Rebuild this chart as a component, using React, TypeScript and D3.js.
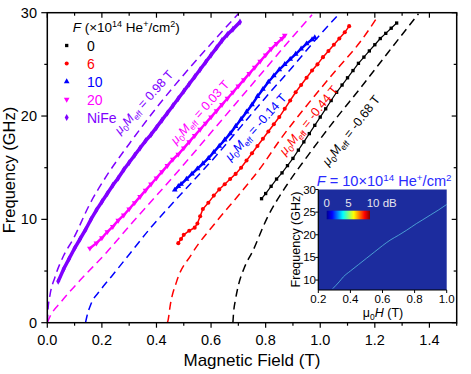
import React from 'react';
import * as d3 from 'd3';

// ---- measured resonance data (field in T, frequency in GHz) ----
const fieldF0 = [0.785, 0.80, 0.82, 0.84, 0.86, 0.88, 0.90, 0.92, 0.94, 0.96, 0.98, 1.00, 1.02, 1.04, 1.06, 1.08, 1.10, 1.12, 1.14, 1.16, 1.18, 1.20, 1.22, 1.24, 1.26, 1.28];
const freqF0 = [12.0, 12.5, 13.2, 13.9, 14.5, 15.2, 15.9, 16.7, 17.5, 18.3, 19.1, 19.9, 20.7, 21.5, 22.3, 23.0, 23.7, 24.4, 25.1, 25.7, 26.3, 26.9, 27.5, 28.0, 28.5, 29.0];

const fieldF6 = [0.48, 0.49, 0.50, 0.52, 0.54, 0.55, 0.56, 0.57, 0.59, 0.61, 0.63, 0.65, 0.67, 0.69, 0.71, 0.73, 0.75, 0.77, 0.79, 0.81, 0.83, 0.85, 0.87, 0.89, 0.91, 0.93, 0.95, 0.97, 0.99, 1.01, 1.03, 1.05, 1.07, 1.09, 1.106];
const freqF6 = [7.7, 8.1, 8.5, 8.9, 9.2, 9.6, 10.3, 11.0, 11.6, 12.3, 12.9, 13.4, 13.9, 14.4, 15.0, 15.7, 16.4, 17.1, 17.8, 18.5, 19.2, 19.9, 20.7, 21.5, 22.3, 23.0, 23.7, 24.4, 25.0, 25.7, 26.3, 26.9, 27.5, 28.1, 28.7];

const fieldF10 = [0.467, 0.48, 0.49, 0.51, 0.53, 0.55, 0.57, 0.59, 0.61, 0.63, 0.65, 0.67, 0.69, 0.71, 0.73, 0.75, 0.77, 0.79, 0.81, 0.83, 0.85, 0.87, 0.89, 0.91, 0.93, 0.95, 0.97, 0.98];
const freqF10 = [12.85, 13.2, 13.4, 13.9, 14.4, 14.9, 15.4, 15.9, 16.5, 17.1, 17.7, 18.3, 19.0, 19.7, 20.4, 21.1, 21.9, 22.6, 23.3, 23.9, 24.5, 25.0, 25.5, 26.0, 26.5, 27.0, 27.4, 27.6];

const fieldF20 = [0.156, 0.18, 0.20, 0.22, 0.24, 0.26, 0.28, 0.30, 0.32, 0.34, 0.36, 0.38, 0.40, 0.42, 0.44, 0.46, 0.48, 0.50, 0.52, 0.54, 0.56, 0.58, 0.60, 0.62, 0.64, 0.66, 0.68, 0.70, 0.72, 0.74, 0.76, 0.78, 0.80, 0.82, 0.84, 0.86, 0.87];
const freqF20 = [7.2, 7.7, 8.2, 8.8, 9.3, 9.9, 10.4, 11.0, 11.6, 12.2, 12.8, 13.4, 14.0, 14.6, 15.2, 15.8, 16.3, 16.9, 17.5, 18.1, 18.7, 19.3, 19.9, 20.5, 21.1, 21.7, 22.3, 22.9, 23.5, 24.1, 24.7, 25.3, 25.9, 26.5, 27.0, 27.5, 27.8];

const fieldNiFe = [0.04, 0.06, 0.08, 0.10, 0.12, 0.14, 0.16, 0.18, 0.20, 0.22, 0.24, 0.26, 0.28, 0.30, 0.32, 0.34, 0.36, 0.38, 0.40, 0.42, 0.44, 0.46, 0.48, 0.50, 0.52, 0.54, 0.56, 0.58, 0.60, 0.62, 0.64, 0.66, 0.68, 0.706];
const freqNiFe = [4.0, 5.2, 6.2, 7.2, 8.1, 9.0, 10.0, 10.9, 11.7, 12.5, 13.3, 14.0, 14.8, 15.5, 16.2, 16.9, 17.6, 18.2, 18.9, 19.6, 20.3, 21.0, 21.7, 22.4, 23.1, 23.8, 24.5, 25.2, 25.9, 26.6, 27.3, 27.9, 28.4, 29.1];

// ---- dashed fit curves ----
const fitFieldF0 = [0.68, 0.682, 0.69, 0.70, 0.72, 0.754, 0.803, 0.877, 0.95, 1.05, 1.15, 1.25, 1.36];
const fitFreqF0 = [0, 0.8, 2.3, 3.6, 5.2, 7.0, 10.0, 13.3, 16.0, 19.5, 22.8, 26.2, 29.9];
const fitFieldF6 = [0.44, 0.443, 0.45, 0.474, 0.528, 0.62, 0.706, 0.79, 0.85, 0.95, 1.06, 1.15, 1.21];
const fitFreqF6 = [0, 0.3, 1.6, 4.0, 6.6, 9.8, 12.5, 15.3, 17.6, 21.0, 24.5, 27.3, 29.6];
const fitFieldF10 = [0.14, 0.145, 0.16, 0.193, 0.236, 0.303, 0.376, 0.45, 0.53, 0.62, 0.71, 0.80, 0.90, 1.00, 1.07];
const fitFreqF10 = [0, 0.6, 1.8, 3.1, 4.5, 6.7, 9.1, 11.3, 13.6, 16.2, 19.0, 21.8, 24.8, 27.9, 29.9];
const fitFieldF20 = [0, 0.01, 0.05, 0.12, 0.217, 0.315, 0.40, 0.50, 0.60, 0.70, 0.80, 0.90, 0.97];
const fitFreqF20 = [0, 0.6, 2.0, 4.1, 6.8, 9.8, 12.3, 15.3, 18.4, 21.5, 24.6, 27.7, 29.8];
const fitFieldNiFe = [0, 0.003, 0.01, 0.028, 0.06, 0.095, 0.156, 0.217, 0.30, 0.40, 0.50, 0.60, 0.70];
const fitFreqNiFe = [0, 1.4, 2.7, 4.4, 6.5, 8.1, 11.5, 14.2, 17.3, 20.8, 24.0, 27.0, 29.9];

const legendLabels = ['0', '6', '10', '20', 'NiFe'];
const meffLabels = ['-0.68', '-0.44', '-0.14', '0.03', '0.98'];

// ---- inset: spectrum at F = 10 ----
const insetField = [0.29, 0.33, 0.356, 0.40, 0.45, 0.50, 0.55, 0.60, 0.647, 0.70, 0.75, 0.813, 0.85, 0.90, 0.95, 1.0];
const insetFreq = [8.1, 9.6, 10.7, 12.0, 13.4, 14.8, 16.2, 17.6, 18.8, 19.9, 21.0, 22.5, 23.3, 24.4, 25.5, 26.7];
const colorbarTicks = ['0', '5', '10 dB'];

const FONT = 'Liberation Sans, Arial, Helvetica, sans-serif';

export default function App() {
  const x = d3.scaleLinear().domain([0, 1.5]).range([47.3, 456.7]);
  const y = d3.scaleLinear().domain([0, 30]).range([322.7, 12.7]);
  const [x0, x1] = x.range();
  const [y0, y1] = y.range();

  const series = [
    { color: '#000000', sym: d3.symbolSquare, size: 11, rot: 0, H: fieldF0, f: freqF0, fH: fitFieldF0, fF: fitFreqF0, lw: 1.2 },
    { color: '#ff0000', sym: d3.symbolCircle, size: 13, rot: 0, H: fieldF6, f: freqF6, fH: fitFieldF6, fF: fitFreqF6, lw: 1.5 },
    { color: '#0000ff', sym: d3.symbolTriangle, size: 14, rot: 0, H: fieldF10, f: freqF10, fH: fitFieldF10, fF: fitFreqF10, lw: 2.5 },
    { color: '#ff00ff', sym: d3.symbolTriangle, size: 14, rot: 180, H: fieldF20, f: freqF20, fH: fitFieldF20, fF: fitFreqF20, lw: 2.5 },
    { color: '#8000ff', sym: d3.symbolDiamond, size: 14, rot: 0, H: fieldNiFe, f: freqNiFe, fH: fitFieldNiFe, fF: fitFreqNiFe, lw: 3.5 },
  ];

  const line = d3
    .line<[number, number]>()
    .x((d) => x(d[0]))
    .y((d) => y(d[1]))
    .curve(d3.curveMonotoneX);
  const straight = d3
    .line<[number, number]>()
    .x((d) => x(d[0]))
    .y((d) => y(d[1]));

  // annotation placement (baseline centre, angle)
  const annot = [
    { cx: 354.5, cy: 133, a: -52 },
    { cx: 312, cy: 123, a: -51 },
    { cx: 259, cy: 130, a: -48 },
    { cx: 203, cy: 115, a: -48 },
    { cx: 147, cy: 105, a: -48 },
  ];

  const xTicks = d3.range(0, 1.5001, 0.1);
  const yTicks = d3.range(0, 30.001, 5);

  // inset scales
  const ix = d3.scaleLinear().domain([0.2, 1.0]).range([318.3, 446.7]);
  const iy = d3.scaleLinear().domain([7.8, 30]).range([290, 189.5]);
  const insetLine = d3
    .line<[number, number]>()
    .x((d) => ix(d[0]))
    .y((d) => iy(d[1]))
    .curve(d3.curveMonotoneX);
  const cbx = d3.scaleLinear().domain([0, 10]).range([326.7, 370]);

  const jet = ['#00008f', '#0000ff', '#00ffff', '#ffff00', '#ff0000', '#800000'];
  const jetOff = [0, 0.125, 0.375, 0.625, 0.875, 1];

  return (
    <svg width={471} height={374} style={{ position: 'absolute', left: 0, top: 0, background: '#fff' }} fontFamily={FONT}>
      <defs>
        <linearGradient id="jet" x1="0" x2="1" y1="0" y2="0">
          {jet.map((c, i) => (
            <stop key={i} offset={jetOff[i]} stopColor={c} />
          ))}
        </linearGradient>
        <clipPath id="plotclip">
          <rect x={x0} y={y1} width={x1 - x0} height={y0 - y1} />
        </clipPath>
      </defs>

      {/* dashed fits */}
      <g clipPath="url(#plotclip)">
        {series.map((s, i) => (
          <path
            key={'fit' + i}
            d={line(s.fH.map((h, j) => [h, s.fF[j]] as [number, number])) || ''}
            fill="none"
            stroke={s.color}
            strokeWidth={1.5}
            strokeDasharray="8 5"
          />
        ))}
      </g>

      {/* data */}
      {series.map((s, i) => {
        const pts = s.H.map((h, j) => [h, s.f[j]] as [number, number]);
        const sym = d3.symbol().type(s.sym).size(s.size)() || '';
        return (
          <g key={'data' + i}>
            <path d={straight(pts) || ''} fill="none" stroke={s.color} strokeWidth={s.lw} />
            {pts.map((p, j) => (
              <path key={j} d={sym} fill={s.color} transform={`translate(${x(p[0])},${y(p[1])}) rotate(${s.rot})`} />
            ))}
          </g>
        );
      })}

      {/* M_eff annotations */}
      {annot.map((a, i) => (
        <text
          key={'an' + i}
          transform={`translate(${a.cx},${a.cy}) rotate(${a.a})`}
          textAnchor="middle"
          fontSize={12.5}
          fill={series[i].color}
        >
          <tspan fontStyle="italic">μ</tspan>
          <tspan fontSize={8.5} dy={3}>0</tspan>
          <tspan fontStyle="italic" dy={-3}>M</tspan>
          <tspan fontSize={8.5} dy={3}>eff</tspan>
          <tspan dy={-3}>{` = ${meffLabels[i]} T`}</tspan>
        </text>
      ))}

      {/* frame */}
      <rect x={x0} y={y1} width={x1 - x0} height={y0 - y1} fill="none" stroke="#000" strokeWidth={1.5} />
      {xTicks.map((t, i) => {
        const major = i % 2 === 0;
        const px = x(t);
        return (
          <g key={'xt' + i}>
            <line x1={px} x2={px} y1={y0} y2={y0 + (major ? 5 : 3)} stroke="#000" strokeWidth={1.2} />
            <line x1={px} x2={px} y1={y1} y2={y1 + (major ? 5 : 3)} stroke="#000" strokeWidth={1.2} />
            {major && (
              <text x={px} y={344.5} textAnchor="middle" fontSize={14.5}>
                {d3.format('.1f')(t)}
              </text>
            )}
          </g>
        );
      })}
      {yTicks.map((t, i) => {
        const major = i % 2 === 0;
        const py = y(t);
        return (
          <g key={'yt' + i}>
            <line x1={x0} x2={x0 - (major ? 6 : 3)} y1={py} y2={py} stroke="#000" strokeWidth={1.2} />
            <line x1={x1} x2={x1 - (major ? 5 : 3)} y1={py} y2={py} stroke="#000" strokeWidth={1.2} />
            {major && (
              <text x={37} y={py + 5} textAnchor="end" fontSize={14.5}>
                {t}
              </text>
            )}
          </g>
        );
      })}
      <text x={252} y={366} textAnchor="middle" fontSize={17}>
        Magnetic Field (T)
      </text>
      <text transform="translate(15,170) rotate(-90)" textAnchor="middle" fontSize={16.5}>
        Frequency (GHz)
      </text>

      {/* legend */}
      <text x={72.7} y={31.7} fontSize={13.5}>
        <tspan fontStyle="italic">F</tspan>
        <tspan>{' (×10'}</tspan>
        <tspan fontSize={9} dy={-5}>14</tspan>
        <tspan dy={5}>{' He'}</tspan>
        <tspan fontSize={9} dy={-5}>+</tspan>
        <tspan dy={5}>/cm</tspan>
        <tspan fontSize={9} dy={-5}>2</tspan>
        <tspan dy={5}>)</tspan>
      </text>
      {series.map((s, i) => {
        const by = 50.5 + i * 18;
        const sym = d3.symbol().type(s.sym).size(s.size)() || '';
        return (
          <g key={'lg' + i}>
            <path d={sym} fill={s.color} transform={`translate(66.7,${by - 5}) rotate(${s.rot})`} />
            <text x={87} y={by} fontSize={14} fill={s.color}>
              {legendLabels[i]}
            </text>
          </g>
        );
      })}

      {/* inset */}
      <text x={316.7} y={185.7} fontSize={14.6} fill="#2a2aff">
        <tspan fontStyle="italic">F</tspan>
        <tspan>{' = 10×10'}</tspan>
        <tspan fontSize={9.8} dy={-5}>14</tspan>
        <tspan dy={5}>{' He'}</tspan>
        <tspan fontSize={9.8} dy={-5}>+</tspan>
        <tspan dy={5}>/cm</tspan>
        <tspan fontSize={9.8} dy={-5}>2</tspan>
      </text>
      <rect x={ix(0.2)} y={iy(30)} width={ix(1.0) - ix(0.2)} height={iy(7.8) - iy(30)} fill="#1c2c9e" />
      <path
        d={insetLine(insetField.map((h, j) => [h, insetFreq[j]] as [number, number])) || ''}
        fill="none"
        stroke="#5cc8e8"
        strokeWidth={0.9}
        strokeOpacity={0.8}
      />
      <rect x={cbx(0)} y={210.7} width={cbx(10) - cbx(0)} height={8.6} fill="url(#jet)" />
      {colorbarTicks.map((t, i) => (
        <text key={'cb' + i} x={cbx(i * 5) + (i === 2 ? -3.3 : 0)} y={206.7} textAnchor={i === 2 ? 'start' : 'middle'} fontSize={11.5} fill="#e6e6ee">
          {t}
        </text>
      ))}
      <line x1={ix(0.2)} x2={ix(0.2)} y1={iy(30)} y2={iy(7.8)} stroke="#000" strokeWidth={1.2} />
      <line x1={ix(0.2)} x2={ix(1.0)} y1={iy(7.8)} y2={iy(7.8)} stroke="#000" strokeWidth={1.2} />
      {[0.2, 0.4, 0.6, 0.8, 1.0].map((t) => (
        <g key={'ixt' + t}>
          <line x1={ix(t)} x2={ix(t)} y1={iy(7.8)} y2={iy(7.8) + 3} stroke="#000" />
          <text x={ix(t)} y={302.5} textAnchor="middle" fontSize={11.5}>
            {d3.format('.1f')(t)}
          </text>
        </g>
      ))}
      {[10, 15, 20, 25, 30].map((t) => (
        <g key={'iyt' + t}>
          <line x1={ix(0.2)} x2={ix(0.2) - 3} y1={iy(t)} y2={iy(t)} stroke="#000" />
          <text x={316} y={iy(t) + 4} textAnchor="end" fontSize={11.5}>
            {t}
          </text>
        </g>
      ))}
      <text transform="translate(300,239.5) rotate(-90)" textAnchor="middle" fontSize={12.5}>
        Frequency (GHz)
      </text>
      <text x={383} y={316.7} textAnchor="middle" fontSize={12.5}>
        <tspan>μ</tspan>
        <tspan fontSize={8.5} dy={3}>0</tspan>
        <tspan fontStyle="italic" dy={-3}>H</tspan>
        <tspan>{' (T)'}</tspan>
      </text>
    </svg>
  );
}
